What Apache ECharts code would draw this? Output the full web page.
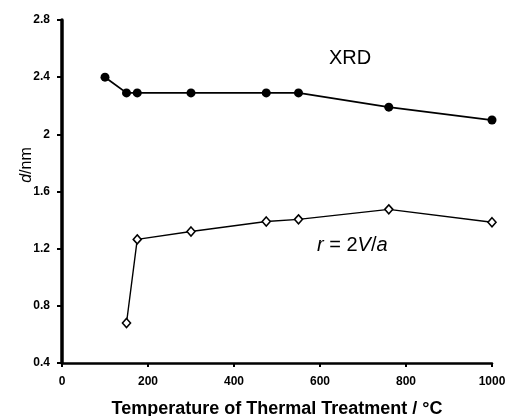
<!DOCTYPE html>
<html><head><meta charset="utf-8">
<script src="https://cdn.jsdelivr.net/npm/echarts@6/dist/echarts.min.js"></script>
<style>html,body{margin:0;padding:0;background:#fff}#c{width:507px;height:416px}</style>
</head><body><div id="c"></div>
<script>
const xrdTemp = [100, 150, 175, 300, 475, 550, 760, 1000];
const xrdD = [2.40, 2.29, 2.29, 2.29, 2.29, 2.29, 2.19, 2.10];
const rTemp = [150, 175, 300, 475, 550, 760, 1000];
const rD = [0.68, 1.265, 1.32, 1.39, 1.405, 1.475, 1.385];
const xTicks = [0, 200, 400, 600, 800, 1000];
const yTicks = [0.4, 0.8, 1.2, 1.6, 2, 2.4, 2.8];

const F = 'Liberation Sans, Arial, sans-serif';
const chart = echarts.init(document.getElementById('c'), null, {renderer:'canvas'});
chart.setOption({
  backgroundColor:'#fff',
  animation:false,
  grid:{left:62, right:15, top:20, bottom:53, containLabel:false, outerBoundsMode:'none'},
  xAxis:{type:'value', min:xTicks[0], max:xTicks[xTicks.length-1], interval:200,
    name:'Temperature of Thermal Treatment / °C', nameLocation:'middle', nameGap:37,
    nameTextStyle:{fontFamily:F, fontSize:18, fontWeight:'bold', color:'#000'},
    axisLine:{lineStyle:{color:'#000', width:2.5}},
    axisTick:{inside:false, length:4, lineStyle:{color:'#000', width:2}},
    axisLabel:{fontFamily:F, fontSize:12, fontWeight:'bold', color:'#000', margin:13,
      formatter:v=>String(v)},
    splitLine:{show:false}},
  yAxis:{type:'value', min:yTicks[0], max:yTicks[yTicks.length-1], interval:0.4,
    axisLine:{lineStyle:{color:'#000', width:3.5}},
    axisTick:{inside:false, length:5, lineStyle:{color:'#000', width:2}},
    axisLabel:{fontFamily:F, fontSize:12, fontWeight:'bold', color:'#000', margin:12,
      formatter:v=>String(Math.round(v*10)/10)},
    splitLine:{show:false}},
  series:[
    {type:'line', data:xrdTemp.map((t,i)=>[t,xrdD[i]]), symbol:'circle', symbolSize:9,
      itemStyle:{color:'#000'}, lineStyle:{color:'#000', width:1.8}},
    {type:'line', data:rTemp.map((t,i)=>[t,rD[i]]), symbol:'diamond', symbolSize:[8,9],
      itemStyle:{color:'#fff', borderColor:'#000', borderWidth:1.6}, lineStyle:{color:'#000', width:1.4}}
  ],
  graphic:[
    {type:'text', left:329, top:48, style:{text:'XRD', fontFamily:F, fontSize:20, fill:'#000'}},
    {type:'text', left:317, top:235, style:{fontFamily:F, fontSize:20, fill:'#000',
      rich:{i:{fontFamily:F, fontSize:20, fontStyle:'italic', fill:'#000'}}, text:'{i|r} = 2{i|V}/{i|a}'}},
    {type:'text', x:27, y:165, rotation:Math.PI/2, style:{fontFamily:F, fontSize:16, fill:'#000', align:'center', verticalAlign:'middle',
      rich:{i:{fontFamily:F, fontSize:16, fontStyle:'italic', fill:'#000'}}, text:'{i|d}/nm'}}
  ]
});
</script></body></html>
